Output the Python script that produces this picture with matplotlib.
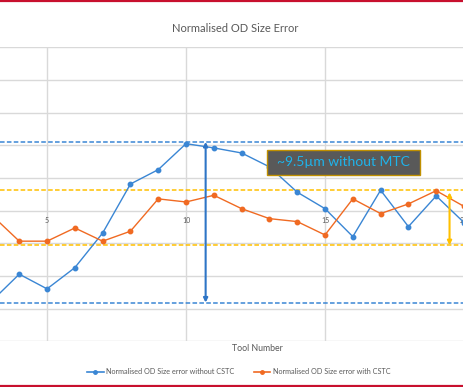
import matplotlib
matplotlib.use("Agg")
import matplotlib.pyplot as plt
from matplotlib.patches import Rectangle
from matplotlib.lines import Line2D

plt.rcParams['font.family'] = ['Lato', 'DejaVu Sans']

tools = list(range(3, 21))
without_cstc = [-5.55, -3.89, -4.79, -3.49, -1.37, 1.63, 2.51, 4.10, 3.84, 3.53,
                2.68, 1.13, 0.12, -1.59, 1.25, -0.98, 0.90, -0.73]
with_cstc = [-0.26, -1.87, -1.87, -1.06, -1.87, -1.26, 0.72, 0.53, 0.94, 0.12,
             -0.49, -0.67, -1.49, 0.72, -0.18, 0.41, 1.22, 0.26]
tick_tools = [5, 10, 15, 20]
blue_band = [4.21, -5.63]
yellow_band = [1.27, -2.12]
annotation = "~9.5µm without MTC"
title = "Normalised OD Size Error"
xlabel = "Tool Number"
labels = ["Normalised OD Size error without CSTC", "Normalised OD Size error with CSTC"]

BLUE = "#3a86d4"
ORANGE = "#f06a22"
GOLD = "#ffc000"
GREY = "#595959"

fig = plt.figure(figsize=(4.64, 3.87), dpi=100)
ax = fig.add_axes([0, 1 - 341.3 / 387, 1, (341.3 - 47.3) / 387])
ax.set_xlim(3.307, 19.914)
ax.set_ylim(-8, 10)
for s in ax.spines.values():
    s.set_visible(False)
ax.set_yticks(range(-8, 11, 2))
ax.set_xticks(tick_tools)
ax.grid(True, color="#d9d9d9", linewidth=1.0)
ax.tick_params(length=0, labelleft=False, labelbottom=False)
ax.set_axisbelow(True)

for t in tick_tools:
    ax.annotate(str(t), (t, 0), xytext=(0, -7), textcoords="offset points",
                ha="center", va="center", fontsize=5, color=GREY)

# bands
for y in blue_band:
    ax.axhline(y, color=BLUE, linestyle=(0, (3, 1.5)), linewidth=1.1, zorder=2)
for y in yellow_band:
    ax.axhline(y, color=GOLD, linestyle=(0, (3, 1.5)), linewidth=1.1, zorder=2)

ax.plot(tools, without_cstc, color=BLUE, linewidth=1.0, marker="o", markersize=3.2, zorder=4)
ax.plot(tools, with_cstc, color=ORANGE, linewidth=1.0, marker="o", markersize=3.2, zorder=4)

# arrows
ax.annotate("", xy=(10.705, blue_band[1]), xytext=(10.705, blue_band[0]),
            arrowprops=dict(arrowstyle="<|-|>", color="#2e75c6", lw=1.5,
                            mutation_scale=6, shrinkA=0, shrinkB=0), zorder=5)
ax.annotate("", xy=(19.48, yellow_band[1]), xytext=(19.48, yellow_band[0] - 0.15),
            arrowprops=dict(arrowstyle="<|-|>", color=GOLD, lw=1.5,
                            mutation_scale=6, shrinkA=0, shrinkB=0), zorder=5)

# text box
ax.add_patch(Rectangle((12.91, 2.18), 18.40 - 12.91, 3.72 - 2.18, facecolor="#595959",
                       edgecolor="#c09000", linewidth=1.0, zorder=6))
ax.text((12.91 + 18.40) / 2, (2.18 + 3.72) / 2, annotation, ha="center", va="center",
        fontsize=10, color="#1eb4ec", zorder=7)

fig.text(235 / 464, 1 - 29 / 387, title, ha="center", va="center", fontsize=8, color=GREY)
fig.text(257 / 464, 1 - 348.7 / 387, xlabel, ha="center", va="center", fontsize=6.3, color=GREY)

# legend
ly = 1 - 372 / 387
for (x0, x1, tx, col, lab) in [(87, 104, 106, BLUE, labels[0]), (254, 270, 273, ORANGE, labels[1])]:
    fig.add_artist(Line2D([x0 / 464, x1 / 464], [ly, ly], color=col, linewidth=1.2))
    fig.add_artist(Line2D([(x0 + x1) / 2 / 464], [ly], color=col, marker="o", markersize=2.5))
    fig.text(tx / 464, ly, lab, ha="left", va="center", fontsize=5.2, color=GREY)

# red border lines
fig.add_artist(Line2D([0, 1], [1 - 1 / 387, 1 - 1 / 387], color="#c8102e", linewidth=1.6))
fig.add_artist(Line2D([0, 1], [1 - 386 / 387, 1 - 386 / 387], color="#c8102e", linewidth=1.6))

fig.savefig("out.png", dpi=100)
